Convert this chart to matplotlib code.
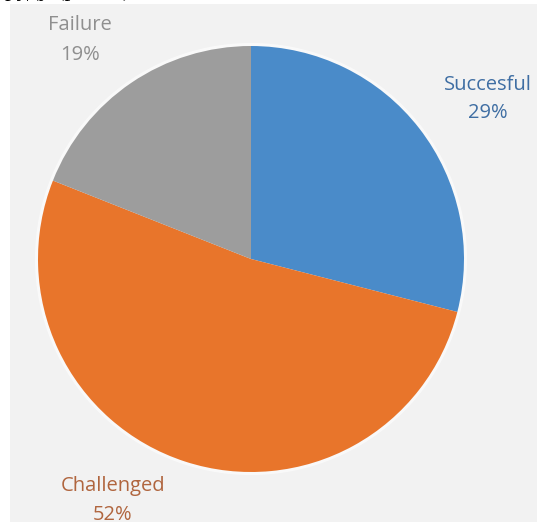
import matplotlib
matplotlib.use("Agg")
import matplotlib.pyplot as plt
from matplotlib.patches import Rectangle, Circle

# chart data
categories = ["Succesful", "Challenged", "Failure"]
shares = [29, 52, 19]
slice_colors = ["#4a8bc9", "#e8752b", "#9d9d9d"]
text_colors = ["#3f6ea3", "#b0653e", "#8f8f8f"]

W, H = 537, 522
fig = plt.figure(figsize=(W / 100, H / 100), dpi=100)
fig.patch.set_facecolor("white")

ax = fig.add_axes([0, 0, 1, 1])

# light grey panel of the chart area
ax.add_patch(Rectangle((10, 0), W - 10, H - 4, facecolor="#f2f2f2",
                       edgecolor="none", zorder=0))

cx, cy, r = 251, H - 259, 213
# soft halo around the pie
ax.add_patch(Circle((cx, cy), r + 3, facecolor="white", alpha=0.6,
                    edgecolor="none", zorder=1))

wedges, _ = ax.pie(shares, colors=slice_colors, startangle=90,
                   counterclock=False, center=(cx, cy), radius=r,
                   wedgeprops=dict(edgecolor="none", zorder=2),
                   frame=True)
ax.set_xlim(0, W)
ax.set_ylim(0, H)
ax.set_aspect("equal")
ax.axis("off")

# label positions (image pixels, from top)
label_pos = [(488, 99), (113, 501), (80, 40)]
for name, val, col, (x, y) in zip(categories, shares, text_colors, label_pos):
    ax.text(x, H - y, f"{name}\n{val}%", ha="center", va="center",
            color=col, fontsize=14.5, family="Open Sans",
            linespacing=1.6, zorder=5)

# cut-off line of the surrounding document text
fig.text(5 / W, (H + 4) / H, "руду (рис. 1),", ha="left", va="baseline",
         fontsize=17, family="Liberation Serif", color="black")

fig.savefig("out.png", dpi=100, facecolor=fig.get_facecolor())
